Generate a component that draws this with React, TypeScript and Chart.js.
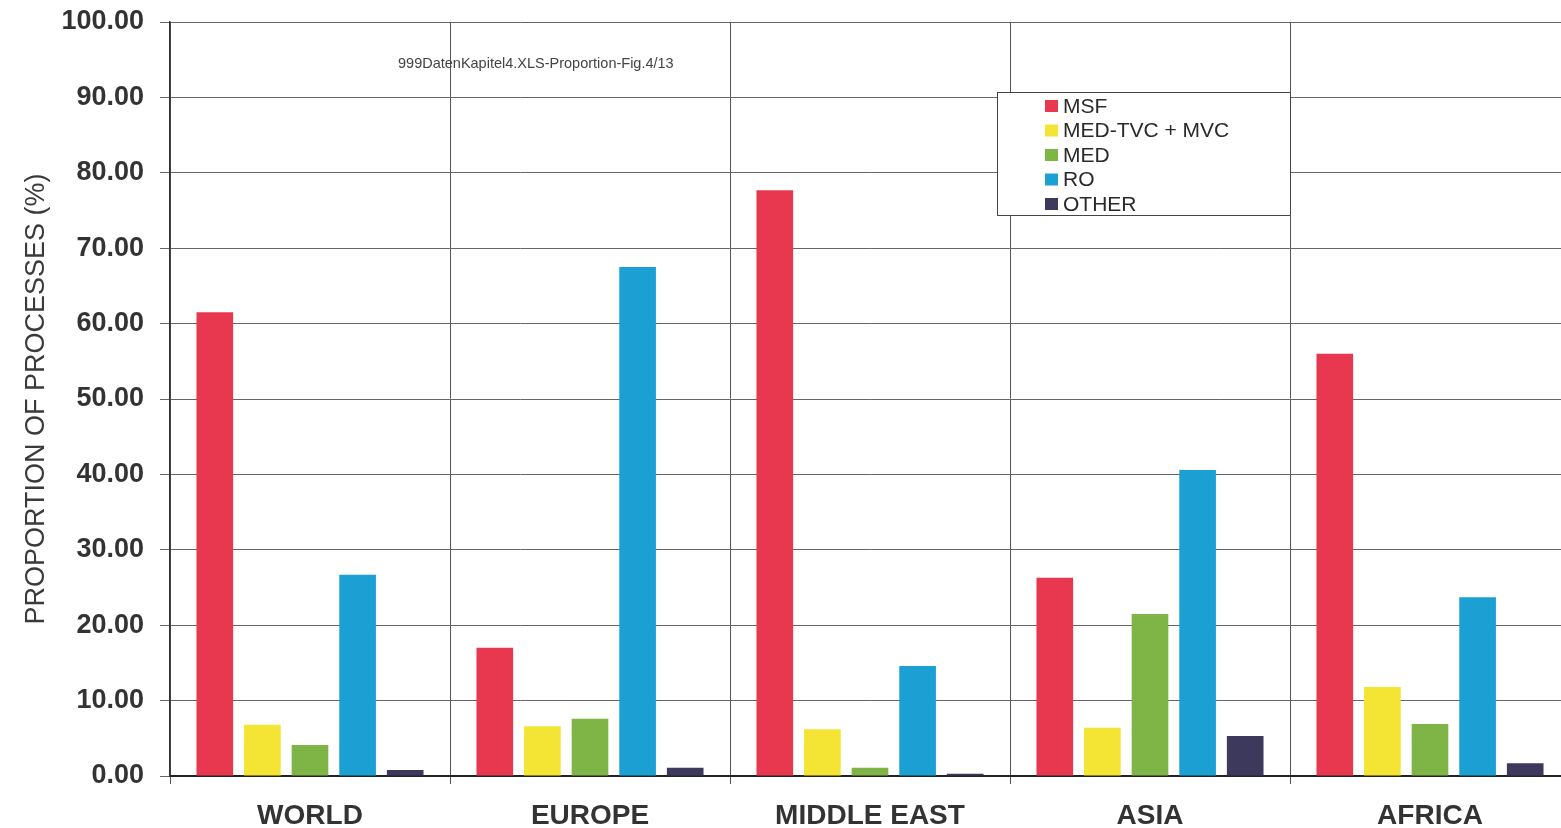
import React, { useEffect, useRef } from "react";
import { Chart, registerables } from "chart.js";

Chart.register(...registerables);

// Regions on the category axis
const regions = ["WORLD", "EUROPE", "MIDDLE EAST", "ASIA", "AFRICA"];

// Share of each desalination process per region (%)
const msf = [61.5, 17.0, 77.7, 26.3, 56.0];
const medTvcMvc = [6.8, 6.6, 6.2, 6.4, 11.8];
const med = [4.1, 7.6, 1.1, 21.5, 6.9];
const ro = [26.7, 67.5, 14.6, 40.6, 23.7];
const other = [0.8, 1.1, 0.3, 5.3, 1.7];

const seriesLabels = ["MSF", "MED-TVC + MVC", "MED", "RO", "OTHER"];
const seriesColors = ["#e8384f", "#f4e433", "#7fb446", "#1c9fd2", "#3c395c"];

// Y axis range and step
const yMin = 0;
const yMax = 100;
const yStep = 10;

const fileNote = "999DatenKapitel4.XLS-Proportion-Fig.4/13";

const FONT = "'Liberation Sans', Arial, Helvetica, sans-serif";

// Boxed legend drawn inside the plot, plus the small file note
const overlayPlugin = {
  id: "overlay",
  afterDraw(chart: any) {
    const ctx = chart.ctx as CanvasRenderingContext2D;
    ctx.save();

    // file note
    ctx.font = `14.5px ${FONT}`;
    ctx.fillStyle = "#444";
    ctx.textAlign = "left";
    ctx.textBaseline = "middle";
    ctx.fillText(fileNote, 398, 64);

    // legend box
    const bx = 997, by = 92, bw = 293, bh = 123;
    ctx.fillStyle = "#ffffff";
    ctx.fillRect(bx, by, bw, bh);
    ctx.strokeStyle = "#444";
    ctx.lineWidth = 1;
    ctx.strokeRect(bx + 0.5, by + 0.5, bw, bh);

    ctx.font = `21px ${FONT}`;
    ctx.textBaseline = "middle";
    chart.data.datasets.forEach((ds: any, i: number) => {
      const cy = 106 + i * 24.5;
      ctx.fillStyle = ds.backgroundColor;
      ctx.fillRect(1045, cy - 6, 13, 12);
      ctx.fillStyle = "#2a2a2a";
      ctx.fillText(ds.label, 1063, cy + 1);
    });
    ctx.restore();
  },
};

export default function App() {
  const canvasRef = useRef<HTMLCanvasElement | null>(null);

  useEffect(() => {
    const canvas = canvasRef.current;
    if (!canvas) return;
    const values = [msf, medTvcMvc, med, ro, other];
    const chart = new Chart(canvas, {
      type: "bar",
      data: {
        labels: regions,
        datasets: values.map((d, i) => ({
          label: seriesLabels[i],
          data: d,
          backgroundColor: seriesColors[i],
          borderWidth: 0,
          categoryPercentage: 0.85,
          barPercentage: 0.77,
        })),
      },
      options: {
        animation: false,
        responsive: false,
        maintainAspectRatio: false,
        layout: { padding: { top: 22, right: 10, left: 0, bottom: 0 } },
        plugins: {
          legend: { display: false },
          tooltip: { enabled: false },
        },
        scales: {
          x: {
            offset: true,
            grid: {
              offset: true,
              color: "#555",
              lineWidth: 1,
              drawTicks: true,
              tickLength: 8,
            },
            border: { color: "#222", width: 2 },
            ticks: {
              color: "#333",
              font: { family: FONT, size: 28, weight: "bold" },
              padding: 15,
              maxRotation: 0,
              autoSkip: false,
            },
            afterFit(scale: any) {
              scale.height = 52;
              scale.paddingLeft = 0;
              scale.paddingRight = 0;
            },
          },
          y: {
            min: yMin,
            max: yMax,
            grid: {
              color: "#666",
              lineWidth: 1,
              drawTicks: true,
              tickLength: 10,
            },
            border: { color: "#333", width: 1.5 },
            ticks: {
              stepSize: yStep,
              color: "#333",
              font: { family: FONT, size: 27, weight: "bold" },
              padding: 16,
              callback: (v: any) => Number(v).toFixed(2),
            },
            title: {
              display: true,
              text: "PROPORTION OF PROCESSES (%)",
              color: "#3a3a3a",
              font: { family: FONT, size: 27, weight: "normal" },
              padding: { top: 20, bottom: 0 },
            },
            afterFit(scale: any) {
              scale.width = 170;
              scale.paddingTop = 0;
              scale.paddingBottom = 0;
            },
          },
        },
      },
      plugins: [overlayPlugin],
    });
    return () => chart.destroy();
  }, []);

  return (
    <div
      style={{
        position: "fixed",
        left: 0,
        top: 0,
        width: 1561,
        height: 828,
        overflow: "hidden",
        background: "#ffffff",
      }}
    >
      <canvas ref={canvasRef} width={1580} height={828} style={{ display: "block" }} />
    </div>
  );
}
